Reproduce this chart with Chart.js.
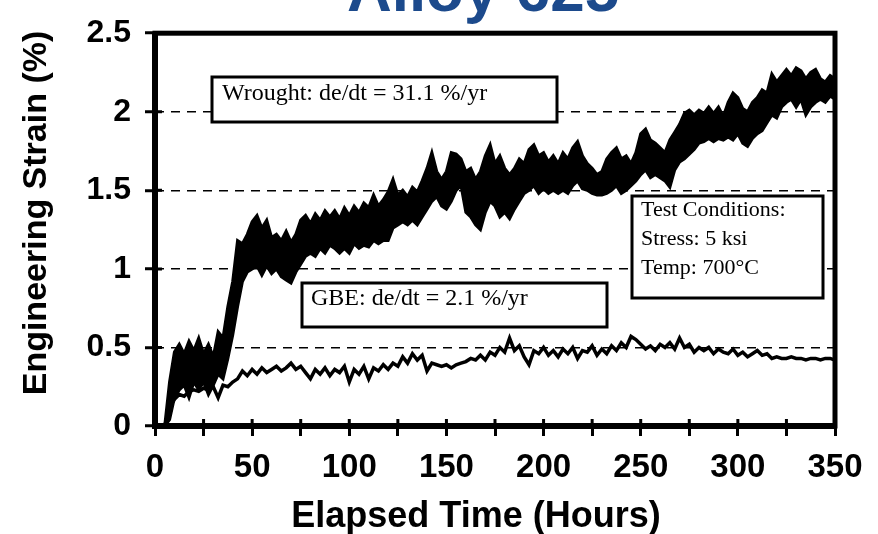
<!DOCTYPE html>
<html>
<head>
<meta charset="utf-8">
<script src="https://cdn.jsdelivr.net/npm/chart.js@4.4.0/dist/chart.umd.min.js"></script>
<style>
  html, body { margin: 0; padding: 0; background: #fff; }
</style>
</head>
<body>
<canvas id="chart" width="878" height="534"></canvas>
<script>
// elapsed time (hours)
const hours = [
  5, 7.5, 10, 12.5, 15, 17.5, 20, 22.5, 25, 27.5,
  30, 32.5, 35, 37.5, 40, 42.5, 45, 47.5, 50, 52.5,
  55, 57.5, 60, 62.5, 65, 67.5, 70, 72.5, 75, 77.5,
  80, 82.5, 85, 87.5, 90, 92.5, 95, 97.5, 100, 102.5,
  105, 107.5, 110, 112.5, 115, 117.5, 120, 122.5, 125, 127.5,
  130, 132.5, 135, 137.5, 140, 142.5, 145, 147.5, 150, 152.5,
  155, 157.5, 160, 162.5, 165, 167.5, 170, 172.5, 175, 177.5,
  180, 182.5, 185, 187.5, 190, 192.5, 195, 197.5, 200, 202.5,
  205, 207.5, 210, 212.5, 215, 217.5, 220, 222.5, 225, 227.5,
  230, 232.5, 235, 237.5, 240, 242.5, 245, 247.5, 250, 252.5,
  255, 257.5, 260, 262.5, 265, 267.5, 270, 272.5, 275, 277.5,
  280, 282.5, 285, 287.5, 290, 292.5, 295, 297.5, 300, 302.5,
  305, 307.5, 310, 312.5, 315, 317.5, 320, 322.5, 325, 327.5,
  330, 332.5, 335, 337.5, 340, 342.5, 345, 347.5, 350
];

// wrought: upper and lower edge of the noisy band (%)
const wroughtHigh = [
  0, 0.28, 0.47, 0.52, 0.46, 0.54, 0.48, 0.56, 0.46, 0.52,
  0.44, 0.6, 0.56, 0.76, 0.92, 1.18, 1.16, 1.22, 1.3, 1.34,
  1.26, 1.31, 1.2, 1.22, 1.18, 1.24, 1.17, 1.22, 1.31, 1.34,
  1.29, 1.35, 1.31, 1.37, 1.33, 1.37, 1.32, 1.39, 1.34, 1.4,
  1.36, 1.42, 1.39, 1.47, 1.4, 1.44, 1.49, 1.57, 1.47, 1.5,
  1.46, 1.52, 1.49, 1.56, 1.64, 1.74, 1.62, 1.57, 1.62, 1.74,
  1.73, 1.7, 1.62, 1.64, 1.57, 1.62, 1.72, 1.79, 1.67, 1.72,
  1.64, 1.6, 1.64, 1.7, 1.67, 1.76, 1.79, 1.72, 1.74, 1.68,
  1.72, 1.67, 1.74, 1.7, 1.77, 1.81, 1.72, 1.67, 1.64, 1.6,
  1.62, 1.7, 1.74, 1.77, 1.7, 1.72, 1.67, 1.74, 1.86, 1.89,
  1.82, 1.8, 1.77, 1.74, 1.82, 1.87, 1.92, 1.99, 2.01, 1.98,
  2.01, 1.99, 2.03, 1.99, 2.03, 1.97, 2.06, 2.12, 2.09, 2.02,
  2.0, 2.06, 2.09, 2.14, 2.12, 2.24, 2.19, 2.23, 2.27, 2.23,
  2.28, 2.26, 2.21, 2.25, 2.27, 2.21, 2.19, 2.23, 2.21
];
const wroughtLow = [
  0, 0.04, 0.18, 0.23, 0.26, 0.18, 0.28, 0.23, 0.28, 0.2,
  0.26, 0.33, 0.3, 0.43, 0.58, 0.76, 0.92, 0.98, 1.0, 1.02,
  0.96, 1.02, 0.97, 1.0, 0.95, 0.93, 0.91, 0.98, 1.03, 1.08,
  1.1, 1.08, 1.13, 1.1, 1.15, 1.13, 1.1, 1.13, 1.1, 1.16,
  1.13, 1.15, 1.14, 1.18, 1.16, 1.18, 1.18, 1.26, 1.28, 1.3,
  1.28, 1.31, 1.28, 1.33, 1.38, 1.43, 1.46, 1.4, 1.38, 1.43,
  1.5, 1.53, 1.36, 1.33, 1.28, 1.25, 1.36, 1.43, 1.4, 1.33,
  1.36, 1.32, 1.38, 1.43, 1.48, 1.5, 1.53, 1.48, 1.51, 1.48,
  1.5, 1.48, 1.5, 1.48, 1.53, 1.56, 1.51, 1.5, 1.48, 1.47,
  1.47, 1.48, 1.5, 1.53, 1.48, 1.5, 1.53, 1.56, 1.6, 1.63,
  1.58, 1.6, 1.58, 1.56, 1.52, 1.63, 1.68, 1.7, 1.73, 1.76,
  1.8, 1.81, 1.83, 1.81, 1.83, 1.82, 1.84, 1.82, 1.86, 1.8,
  1.78, 1.83, 1.86, 1.88, 1.93, 1.98, 1.96, 2.03, 2.06, 2.08,
  2.03, 2.08, 1.98, 2.03, 2.06, 2.08, 2.06, 2.1, 2.08
];

// GBE strain (%)
const gbe = [
  0, 0.12, 0.17, 0.2, 0.19, 0.22, 0.23, 0.22, 0.24, 0.23,
  0.25, 0.18, 0.26, 0.25, 0.28, 0.3, 0.35, 0.32, 0.36, 0.33,
  0.37, 0.34, 0.36, 0.38, 0.35, 0.37, 0.4, 0.36, 0.38, 0.34,
  0.3, 0.36, 0.33, 0.37, 0.32, 0.36, 0.34, 0.38, 0.28, 0.36,
  0.33, 0.38, 0.3, 0.37, 0.35, 0.39, 0.36, 0.4, 0.38, 0.44,
  0.4, 0.46, 0.42, 0.45, 0.35, 0.4, 0.39, 0.38, 0.39, 0.37,
  0.39, 0.4, 0.41, 0.43, 0.42, 0.45, 0.42, 0.47, 0.45, 0.5,
  0.47, 0.56, 0.48, 0.51, 0.44, 0.39, 0.48, 0.46, 0.5, 0.45,
  0.48, 0.44, 0.49, 0.46, 0.5, 0.43, 0.48, 0.47, 0.51, 0.45,
  0.49, 0.46, 0.51, 0.48, 0.53, 0.5, 0.57, 0.55, 0.52, 0.49,
  0.51, 0.48, 0.52, 0.5, 0.53, 0.49, 0.56, 0.5, 0.52, 0.47,
  0.5, 0.48, 0.5, 0.46, 0.49, 0.47, 0.46, 0.49, 0.45, 0.47,
  0.44, 0.46, 0.48, 0.45, 0.46, 0.43, 0.44, 0.43, 0.43, 0.44,
  0.43, 0.43, 0.42, 0.43, 0.43, 0.42, 0.43, 0.43, 0.42
];

const xLabels = [0, 50, 100, 150, 200, 250, 300, 350];
const yLabels = [0, 0.5, 1, 1.5, 2, 2.5];
const dashedAt = [0.5, 1, 1.5, 2];

const chartTitle = 'Alloy 625';
const xTitle = 'Elapsed Time (Hours)';
const yTitle = 'Engineering Strain (%)';
const wroughtNote = 'Wrought: de/dt = 31.1 %/yr';
const gbeNote = 'GBE: de/dt = 2.1 %/yr';
const conditions = ['Test Conditions:', 'Stress: 5 ksi', 'Temp: 700°C'];

const sans = 'Liberation Sans, Arial, sans-serif';
const serif = 'Liberation Serif, Times New Roman, serif';

const pts = vals => vals.map((v, i) => ({ x: hours[i], y: v }));

function noteBox(ctx, x, y, w, h) {
  ctx.fillStyle = '#fff';
  ctx.fillRect(x, y, w, h);
  ctx.lineWidth = 3;
  ctx.strokeStyle = '#000';
  ctx.strokeRect(x, y, w, h);
  ctx.fillStyle = '#000';
}

const decor = {
  id: 'decor',
  afterDatasetsDraw(chart) {
    const { ctx, chartArea: a, scales } = chart;
    ctx.save();

    // text boxes
    ctx.textBaseline = 'alphabetic';
    ctx.textAlign = 'left';

    ctx.font = '24px ' + serif;
    noteBox(ctx, 212, 77, 345, 45);
    ctx.fillText(wroughtNote, 222, 100);

    noteBox(ctx, 302, 283, 305, 44);
    ctx.fillText(gbeNote, 311, 305);

    ctx.font = '22px ' + serif;
    noteBox(ctx, 632, 196, 191, 102);
    conditions.forEach((t, i) => ctx.fillText(t, 641, 216 + i * 29));

    // inner tick stubs
    ctx.strokeStyle = '#000';
    ctx.lineWidth = 3;
    ctx.beginPath();
    scales.x.ticks.forEach(t => {
      const px = scales.x.getPixelForValue(t.value);
      ctx.moveTo(px, a.bottom);
      ctx.lineTo(px, a.bottom - 7);
    });
    scales.y.ticks.forEach(t => {
      const py = scales.y.getPixelForValue(t.value);
      ctx.moveTo(a.left, py);
      ctx.lineTo(a.left + 7, py);
    });
    ctx.stroke();

    // frame
    ctx.lineWidth = 5;
    ctx.strokeRect(a.left, a.top, a.right - a.left, a.bottom - a.top);
    ctx.lineWidth = 6;
    ctx.beginPath();
    ctx.moveTo(a.left, a.top);
    ctx.lineTo(a.left, a.bottom);
    ctx.lineTo(a.right, a.bottom);
    ctx.stroke();
    ctx.restore();
  },
  afterDraw(chart) {
    const { ctx } = chart;
    ctx.save();
    // title, cut off by the top edge
    ctx.fillStyle = '#1c4a8c';
    ctx.font = 'bold 62px ' + sans;
    ctx.textAlign = 'center';
    ctx.textBaseline = 'alphabetic';
    ctx.fillText(chartTitle, 483, 11);

    // x axis title
    ctx.fillStyle = '#000';
    ctx.font = 'bold 36px ' + sans;
    ctx.fillText(xTitle, 476, 527);

    // y axis title, clipped at the left
    ctx.beginPath();
    ctx.rect(21, 0, 60, 534);
    ctx.clip();
    ctx.translate(46, 213);
    ctx.rotate(-Math.PI / 2);
    ctx.font = 'bold 34px ' + sans;
    ctx.fillText(yTitle, 0, 0);
    ctx.restore();
  }
};

new Chart(document.getElementById('chart'), {
  type: 'line',
  data: {
    datasets: [
      {
        label: 'Wrought low',
        data: pts(wroughtLow),
        borderColor: '#000',
        borderWidth: 3,
        fill: false
      },
      {
        label: 'Wrought high',
        data: pts(wroughtHigh),
        borderColor: '#000',
        backgroundColor: '#000',
        borderWidth: 3,
        fill: '-1'
      },
      {
        label: 'GBE',
        data: pts(gbe),
        borderColor: '#000',
        borderWidth: 3.5,
        fill: false
      }
    ]
  },
  options: {
    responsive: false,
    animation: false,
    layout: { padding: { top: 32, right: 43, left: 0, bottom: 0 } },
    elements: { point: { radius: 0 }, line: { tension: 0 } },
    plugins: {
      legend: { display: false },
      tooltip: { enabled: false },
      title: { display: false }
    },
    scales: {
      x: {
        type: 'linear',
        min: 0,
        max: 350,
        afterFit: s => { s.height = 108; },
        ticks: {
          stepSize: 25,
          autoSkip: false,
          maxRotation: 0,
          padding: 12,
          color: '#000',
          font: { family: sans, size: 33, weight: 'bold' },
          callback: v => xLabels.includes(v) ? String(v) : ''
        },
        grid: {
          drawOnChartArea: false,
          tickLength: 10,
          tickWidth: 3,
          tickColor: '#000'
        },
        border: { display: false }
      },
      y: {
        min: 0,
        max: 2.5,
        afterFit: s => { s.width = 155; },
        ticks: {
          stepSize: 0.25,
          padding: 14,
          color: '#000',
          font: { family: sans, size: 32, weight: 'bold' },
          callback: v => yLabels.includes(v) ? String(v) : ''
        },
        grid: {
          color: c => dashedAt.includes(c.tick && c.tick.value) ? '#000' : 'rgba(0,0,0,0)',
          lineWidth: 1.5,
          tickLength: 10,
          tickWidth: 3,
          tickColor: '#000',
          tickBorderDash: []
        },
        border: { display: false, dash: [9, 7] }
      }
    }
  },
  plugins: [decor]
});
</script>
</body>
</html>
